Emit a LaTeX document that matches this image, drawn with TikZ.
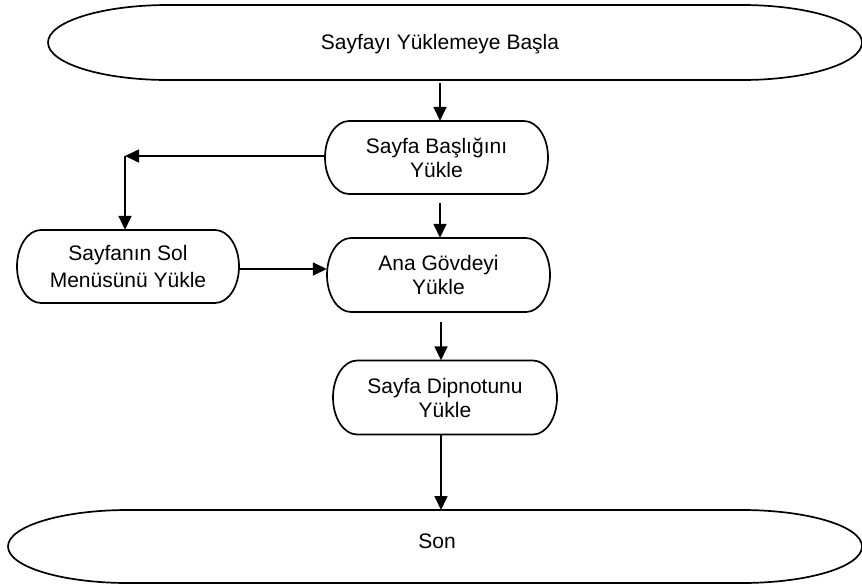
\documentclass[tikz,border=0pt]{standalone}
\usepackage{fontspec}
\setmainfont{Liberation Sans}
\usetikzlibrary{arrows.meta}
% capsule outline: x1, x2, y-centre, height, end radius
\newcommand\capsulepath[5]{%
  \draw[outl] ({#1+#5},{#3+#4/2}) -- ({#2-#5},{#3+#4/2})
    arc[start angle=90,end angle=-90,x radius=#5,y radius=#4/2]
    -- ({#1+#5},{#3-#4/2})
    arc[start angle=270,end angle=90,x radius=#5,y radius=#4/2] -- cycle;}
\begin{document}
\begin{tikzpicture}[x=1pt,y=1pt,
  outl/.style={line width=1.7pt, line join=round},
  lbl/.style={inner sep=0pt, align=center, font=\fontsize{21}{24}\selectfont},
  arr/.style={line width=1.6pt, -{Triangle[length=14pt,width=13pt]}}]
\useasboundingbox (0,0) rectangle (862,-587);

% outlines
\capsulepath{48}{862}{-42.5}{75}{120}
\capsulepath{325}{548}{-157.5}{73}{24}
\capsulepath{17}{239}{-266.5}{73}{24}
\capsulepath{327}{550}{-275}{74}{24}
\capsulepath{333}{557}{-397.5}{74}{24}
\capsulepath{8}{862}{-546.5}{73}{120}

% nodes
\node[lbl] (start) at (440,-44) {Sayfayı Yüklemeye Başla};
\node[lbl, minimum width=223pt, minimum height=73pt] (basl) at (436.5,-157.5) {Sayfa Başlığını\\Yükle};
\node[lbl, minimum width=222pt, minimum height=73pt, font=\fontsize{21}{27}\selectfont] (left) at (128,-266.5) {Sayfanın Sol\\Menüsünü Yükle};
\node[lbl, minimum width=223pt, minimum height=74pt] (ana) at (438.5,-275) {Ana Gövdeyi\\Yükle};
\node[lbl, minimum width=224pt, minimum height=74pt] (dip) at (445,-397.5) {Sayfa Dipnotunu\\Yükle};
\node[lbl] (son) at (437,-541) {Son};

% helper coordinates
\coordinate (startbot) at (440,-80);
\coordinate (lowx) at (441,0);
\coordinate (endtop) at (441,-510);
\coordinate (corner) at (125,-156);
\coordinate (hy) at (0,-269);

% connectors
\draw[arr, shorten <=3pt] (startbot) -- (startbot |- basl.north);
\draw[arr, shorten <=9pt] (basl.south -| startbot) -- (ana.north -| startbot);
\draw[arr] (basl.west |- corner) -- (corner);
\draw[arr] (corner) -- (corner |- left.north);
\draw[arr] (left.east |- hy) -- (ana.west |- hy);
\draw[arr, shorten <=10pt] (ana.south -| lowx) -- (dip.north -| lowx);
\draw[arr] (dip.south -| lowx) -- (endtop);
\end{tikzpicture}
\end{document}
